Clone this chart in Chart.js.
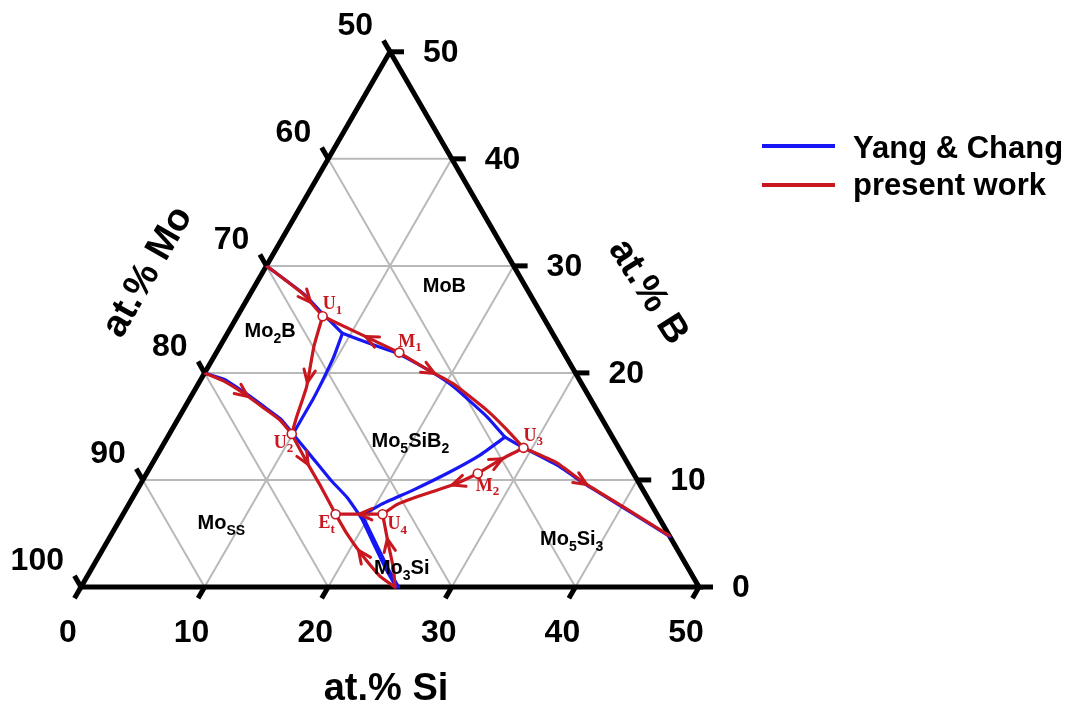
<!DOCTYPE html>
<html lang="en">
<head>
<meta charset="utf-8">
<title>Mo–Si–B liquidus projection</title>
<script src="https://cdn.jsdelivr.net/npm/chart.js@4.4.1/dist/chart.umd.min.js"></script>
<style>
  html, body { margin: 0; padding: 0; background: #ffffff; }
  #box { position: relative; width: 1070px; height: 716px; }
  canvas { display: block; }
</style>
</head>
<body>
<div id="box"><canvas id="chart" width="1070" height="716"></canvas></div>
<script>
// ---- compositions are [at.% Si, at.% B]; Mo is the balance ----
const siTicks = [0, 10, 20, 30, 40, 50];
const bTicks = [0, 10, 20, 30, 40, 50];
const moTicks = [50, 60, 70, 80, 90, 100];
const gridSteps = [10, 20, 30, 40];

// Yang & Chang
const ycMo2BEdgeToKink = [[0, 30], [4.3, 27.4], [6.7, 25.6], [9.3, 23.7]];
const ycKinkToKink = [[9.3, 23.7], [12.4, 22.6], [15.0, 21.7], [18.5, 20.0], [20.8, 18.7], [24.9, 15.9], [27.3, 14.0]];
const ycKinkToMo5Si3Edge = [[27.3, 14.0], [28.9, 13.2], [32.8, 11.4], [36.0, 9.6], [40.2, 7.4], [45.3, 4.7]];
const ycKinkToU2 = [[9.3, 23.7], [9.7, 21.5], [9.9, 19.3], [10.0, 17.5], [10.0, 14.3]];
const ycMoEdgeToU2 = [[0, 20], [1.9, 19.4], [4.1, 18.2], [6.3, 16.9], [8.3, 15.7], [10.0, 14.3]];
const ycU2ToMo3Si = [[10.0, 14.3], [12.9, 11.9], [15.2, 10.0], [17.3, 8.4], [19.5, 6.4], [21.6, 4.1], [23.9, 1.6], [25.5, 0]];
const ycKinkToJunction = [[27.3, 14.0], [26.1, 12.3], [24.3, 10.6], [22.4, 9.1], [20.4, 7.7], [19.4, 6.7]];
const ycJunctionToMo3Si = [[19.4, 6.7], [21.8, 4.1], [24.1, 1.6], [25.7, 0]];

// present work (listed along falling temperature)
const pwMo2BEdgeToU1 = [[0, 30], [2.0, 28.8], [4.4, 27.3], [6.9, 25.3]];
const pwM1ToU1 = [[14.8, 21.9], [6.9, 25.3]];
const pwM1ToU3 = [[14.8, 21.9], [17.9, 20.3], [20.6, 19.0], [24.6, 16.5], [27.1, 14.7], [29.3, 13.0]];
const pwU1ToU2 = [[6.9, 25.3], [7.6, 22.5], [8.9, 18.7], [9.5, 15.9], [9.9, 14.3]];
const pwMoEdgeToU2 = [[0, 20], [1.8, 19.3], [4.1, 18.1], [6.3, 16.8], [8.3, 15.6], [9.9, 14.3]];
const pwU2ToEt = [[9.9, 14.3], [12.5, 11.6], [14.7, 9.4], [17.2, 6.8]];
const pwU3ToMo5Si3Edge = [[29.3, 13.0], [32.7, 11.6], [35.9, 9.7], [40.1, 7.5], [45.2, 4.8]];
const pwM2ToU3 = [[26.8, 10.6], [28.0, 11.9], [29.3, 13.0]];
const pwM2ToU4 = [[26.8, 10.6], [25.6, 9.7], [22.7, 8.3], [21.7, 7.7], [21.0, 6.8]];
const pwU4ToEt = [[21.0, 6.8], [17.2, 6.8]];
const pwMo3SiToEt = [[25.4, 0], [23.7, 1.0], [21.0, 3.2], [19.0, 5.0], [17.2, 6.8]];
const pwMo3SiToU4 = [[25.4, 0], [24.5, 1.6], [22.8, 4.1], [21.8, 5.6], [21.0, 6.8]];

// invariant points (present work)
const invLetters = ['U', 'M', 'U', 'U', 'M', 'E', 'U'];
const invSubs = ['1', '1', '2', '3', '2', 't', '4'];
const invSi = [6.9, 14.8, 9.9, 29.3, 26.8, 17.2, 21.0];
const invB = [25.3, 21.9, 14.3, 13.0, 10.6, 6.8, 6.8];

// primary phase fields
const phaseParts = [
  [['Mo', 0], ['2', 1], ['B', 0]],
  [['MoB', 0]],
  [['Mo', 0], ['5', 1], ['SiB', 0], ['2', 1]],
  [['Mo', 0], ['SS', 1]],
  [['Mo', 0], ['5', 1], ['Si', 0], ['3', 1]],
  [['Mo', 0], ['3', 1], ['Si', 0]]
];
const phaseSi = [3.3, 15.3, 19.8, 8.3, 37.4, 25.0];
const phaseB = [24.0, 28.2, 13.7, 6.1, 4.6, 1.9];

// ---- drawing ----
const RED = '#c8171e';
const BLUE = '#1717f5';
const GRID = '#b9b9b9';
const SANS = '"Liberation Sans", Arial, Helvetica, sans-serif';
const SERIF = '"Liberation Serif", "Times New Roman", serif';

const SQ = Math.sqrt(3) / 2;
const toXY = ([si, b]) => ({ x: si + b / 2, y: b * SQ });

const redPaths = {
  pwMo2BEdgeToU1, pwM1ToU1, pwM1ToU3, pwU1ToU2, pwMoEdgeToU2, pwU2ToEt,
  pwU3ToMo5Si3Edge, pwM2ToU3, pwM2ToU4, pwU4ToEt, pwMo3SiToEt, pwMo3SiToU4
};
// arrowheads: which valley, and how far along it
const arrowAt = [
  ['pwMo2BEdgeToU1', 0.76], ['pwM1ToU1', 0.44], ['pwM1ToU3', 0.26], ['pwU1ToU2', 0.56],
  ['pwMoEdgeToU2', 0.46], ['pwU2ToEt', 0.38], ['pwU3ToMo5Si3Edge', 0.43], ['pwM2ToU3', 0.55],
  ['pwM2ToU4', 0.27], ['pwU4ToEt', 0.5], ['pwMo3SiToEt', 0.55], ['pwMo3SiToU4', 0.66]
];

const datasets = [];
const lineDs = (pts, color, width, order, tension) => ({
  type: 'scatter', data: pts.map(toXY), showLine: true, borderColor: color,
  borderWidth: width, pointRadius: 0, pointHoverRadius: 0, fill: false,
  tension: tension || 0, order, borderCapStyle: 'round', borderJoinStyle: 'round', clip: false
});

// grid lines for each component
gridSteps.forEach(v => {
  datasets.push(lineDs([[0, v], [50 - v, v]], GRID, 2, 50));          // constant B
  datasets.push(lineDs([[v, 0], [v, 50 - v]], GRID, 2, 50));          // constant Si
});
moTicks.slice(1, -1).forEach(m => {
  datasets.push(lineDs([[0, 100 - m], [100 - m, 0]], GRID, 2, 50));    // constant Mo
});

// triangle frame
const frame = lineDs([[0, 0], [50, 0], [0, 50], [0, 0]], '#000', 5, 40);
frame.borderJoinStyle = 'miter';
frame.borderCapStyle = 'square';
datasets.push(frame);

// Yang & Chang valleys
[ycMo2BEdgeToKink, ycKinkToKink, ycKinkToMo5Si3Edge, ycKinkToU2, ycMoEdgeToU2,
 ycU2ToMo3Si, ycKinkToJunction, ycJunctionToMo3Si].forEach(p => datasets.push(lineDs(p, BLUE, 3.2, 30, 0.15)));

// present-work valleys
Object.values(redPaths).forEach(p => datasets.push(lineDs(p, RED, 3.2, 20, 0.15)));

// invariant points
datasets.push({
  type: 'scatter', data: invSi.map((s, i) => toXY([s, invB[i]])), showLine: false,
  pointRadius: 4.5, pointHoverRadius: 4.5, pointBackgroundColor: '#fff',
  pointBorderColor: RED, pointBorderWidth: 1.6, order: 10, clip: false
});

function richText(ctx, parts, x, y, size, align, family, color, subScale, subDrop) {
  const subSize = Math.round(size * (subScale || 0.68));
  const widths = parts.map(([t, s]) => {
    ctx.font = `bold ${s ? subSize : size}px ${family}`;
    return ctx.measureText(t).width;
  });
  const total = widths.reduce((a, b) => a + b, 0);
  let cx = align === 'center' ? x - total / 2 : (align === 'right' ? x - total : x);
  ctx.fillStyle = color;
  ctx.textAlign = 'left';
  ctx.textBaseline = 'alphabetic';
  parts.forEach(([t, s], i) => {
    ctx.font = `bold ${s ? subSize : size}px ${family}`;
    ctx.fillText(t, cx, s ? y + size * (subDrop || 0.28) : y);
    cx += widths[i];
  });
}

const decor = {
  id: 'ternaryDecor',
  afterDatasetsDraw(chart) {
    const { ctx, scales: { x, y } } = chart;
    const px = c => { const p = toXY(c); return [x.getPixelForValue(p.x), y.getPixelForValue(p.y)]; };

    ctx.save();
    // arrowheads along present-work valleys
    ctx.strokeStyle = RED; ctx.lineWidth = 3; ctx.lineCap = 'round'; ctx.lineJoin = 'round';
    arrowAt.forEach(([name, f]) => {
      const pts = redPaths[name].map(px);
      const seg = [];
      let total = 0;
      for (let i = 1; i < pts.length; i++) {
        const l = Math.hypot(pts[i][0] - pts[i - 1][0], pts[i][1] - pts[i - 1][1]);
        seg.push(l); total += l;
      }
      let d = f * total, i = 0;
      while (i < seg.length - 1 && d > seg[i]) { d -= seg[i]; i++; }
      const a = pts[i], b = pts[i + 1], t = d / seg[i];
      const tx = a[0] + (b[0] - a[0]) * t, ty = a[1] + (b[1] - a[1]) * t;
      const ang = Math.atan2(b[1] - a[1], b[0] - a[0]);
      const L = 14, w = 0.42;
      ctx.beginPath();
      ctx.moveTo(tx - L * Math.cos(ang - w), ty - L * Math.sin(ang - w));
      ctx.lineTo(tx, ty);
      ctx.lineTo(tx - L * Math.cos(ang + w), ty - L * Math.sin(ang + w));
      ctx.stroke();
    });

    // axis ticks
    ctx.strokeStyle = '#000'; ctx.lineWidth = 5; ctx.lineCap = 'butt';
    const tick = (p, dx, dy) => { ctx.beginPath(); ctx.moveTo(p[0], p[1]); ctx.lineTo(p[0] + dx, p[1] + dy); ctx.stroke(); };
    siTicks.forEach(s => tick(px([s, 0]), -6.5, 11.3));
    bTicks.forEach(b => tick(px([50 - b, b]), 14, 0));
    moTicks.forEach(m => tick(px([0, 100 - m]), -6.5, -11.3));

    // tick labels
    ctx.fillStyle = '#000';
    ctx.font = `bold 32px ${SANS}`;
    ctx.textBaseline = 'middle';
    ctx.textAlign = 'center';
    siTicks.forEach(s => { const p = px([s, 0]); ctx.fillText(String(s), p[0] - 13, p[1] + 46); });
    ctx.textAlign = 'left';
    bTicks.forEach(b => { const p = px([50 - b, b]); ctx.fillText(String(b), p[0] + 33, p[1] + 1); });
    ctx.textAlign = 'right';
    moTicks.forEach(m => { const p = px([0, 100 - m]); ctx.fillText(String(m), p[0] - 17, p[1] - 26); });

    // axis titles
    ctx.font = `bold 38px ${SANS}`;
    ctx.textAlign = 'center';
    ctx.fillText('at.% Si', 386, 690);
    ctx.save(); ctx.translate(148, 272); ctx.rotate(-Math.PI / 3); ctx.fillText('at.% Mo', 0, 0); ctx.restore();
    ctx.save(); ctx.translate(648, 292); ctx.rotate(Math.PI * 0.32); ctx.fillText('at.% B', 0, 0); ctx.restore();

    // phase fields
    phaseParts.forEach((parts, i) => {
      const p = px([phaseSi[i], phaseB[i]]);
      richText(ctx, parts, p[0], p[1] + 7, 20, 'center', SANS, '#000', parts[1] && parts[1][0] === 'SS' ? 0.72 : 0.68, 0.3);
    });

    // invariant point labels
    const invOff = [[0, -7], [-1, -6], [-18, 14], [0, -7], [-2, 17], [-17, 14], [5, 15]];
    invLetters.forEach((l, i) => {
      const p = px([invSi[i], invB[i]]);
      richText(ctx, [[l, 0], [invSubs[i], 1]], p[0] + invOff[i][0], p[1] + invOff[i][1], 18, 'left', SERIF, RED, 0.7, 0.25);
    });

    // legend
    const legend = [['Yang & Chang', BLUE, 146, 158], ['present work', RED, 185, 195]];
    legend.forEach(([label, color, ly, by]) => {
      ctx.strokeStyle = color; ctx.lineWidth = 4; ctx.lineCap = 'butt';
      ctx.beginPath(); ctx.moveTo(762, ly); ctx.lineTo(835, ly); ctx.stroke();
      ctx.fillStyle = '#000'; ctx.font = `bold 31px ${SANS}`;
      ctx.textAlign = 'left'; ctx.textBaseline = 'alphabetic';
      ctx.fillText(label, 853, by);
    });
    ctx.restore();
  }
};

new Chart(document.getElementById('chart'), {
  type: 'scatter',
  data: { datasets },
  options: {
    responsive: false,
    animation: false,
    devicePixelRatio: 1,
    layout: { padding: 0, autoPadding: false },
    events: [],
    plugins: { legend: { display: false }, tooltip: { enabled: false } },
    scales: {
      x: { type: 'linear', display: false, min: -6.553, max: 80.016 },
      y: { type: 'linear', display: false, min: -10.437, max: 47.492 }
    }
  },
  plugins: [decor]
});
</script>
</body>
</html>
